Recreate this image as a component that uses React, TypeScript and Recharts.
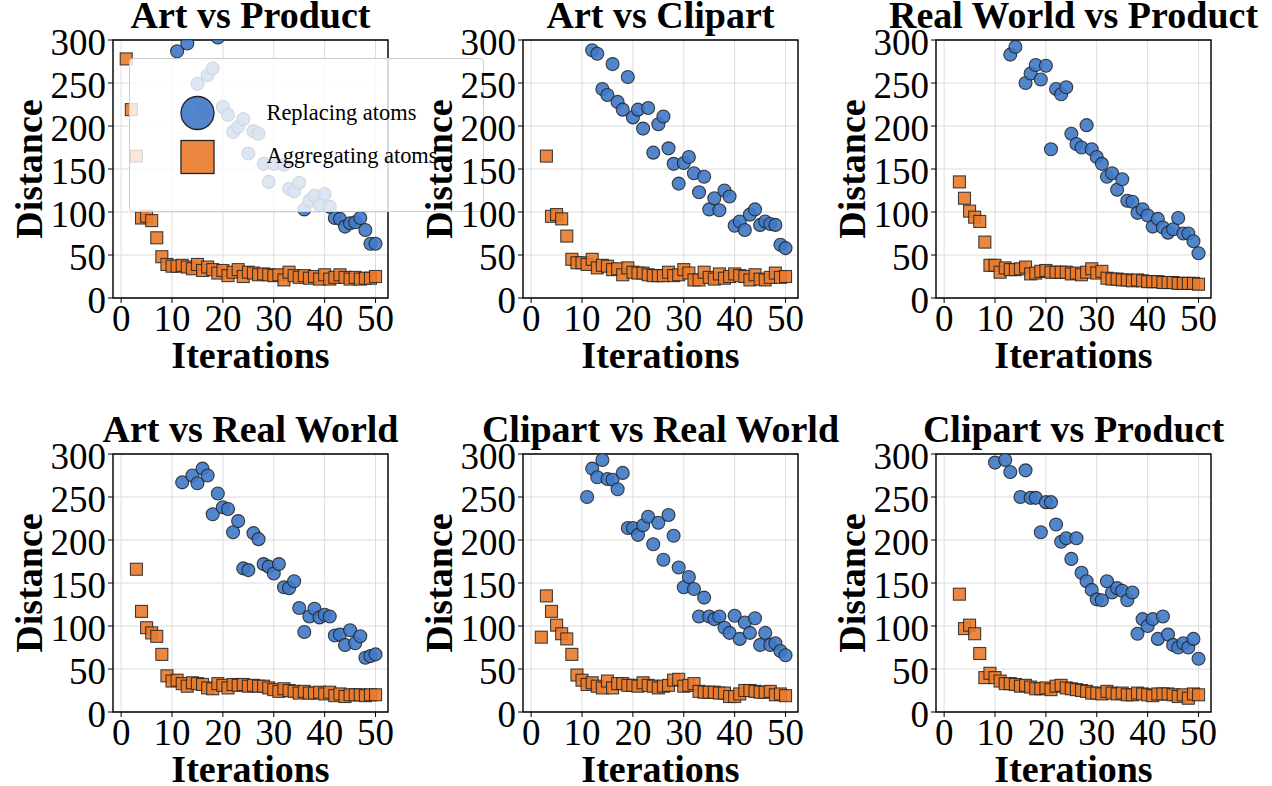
import React from 'react';
import {
  ScatterChart,
  Scatter,
  XAxis,
  YAxis,
  CartesianGrid,
  ReferenceArea,
  Legend,
  Label,
} from 'recharts';

type Pair = [number, number];

// Replacing atoms: [iteration, distance] (points above 300 are clipped)
const artProductReplacing: Pair[] = [
  [11, 287], [13, 296], [15, 249], [16, 217], [17, 259], [18, 267], [19, 303], [20, 222], [21, 213],
  [22, 193], [23, 199], [24, 208], [25, 168], [26, 194], [27, 191], [28, 156], [29, 135], [30, 156],
  [32, 155], [33, 127], [34, 124], [35, 134], [36, 103], [37, 113], [38, 119], [39, 108], [40, 121],
  [41, 106], [42, 93], [43, 92], [44, 83], [45, 87], [46, 88], [47, 93], [48, 79], [49, 63], [50, 63],
];
const artClipartReplacing: Pair[] = [
  [12, 288], [13, 284], [14, 243], [15, 236], [16, 272], [17, 228], [18, 219], [19, 257], [20, 210],
  [21, 219], [22, 197], [23, 221], [24, 169], [25, 202], [26, 211], [27, 174], [28, 156], [29, 133],
  [30, 157], [31, 164], [32, 145], [33, 123], [34, 141], [35, 103], [36, 116], [37, 102], [38, 125],
  [39, 118], [40, 84], [41, 89], [42, 79], [43, 97], [44, 103], [45, 85], [46, 89], [47, 86], [48, 85],
  [49, 62], [50, 58],
];
const realWorldProductReplacing: Pair[] = [
  [13, 283], [14, 292], [16, 250], [17, 261], [18, 271], [19, 254], [20, 270], [21, 173], [22, 243],
  [23, 237], [24, 245], [25, 191], [26, 179], [27, 175], [28, 201], [29, 173], [30, 164], [31, 156],
  [32, 141], [33, 145], [34, 126], [35, 138], [36, 113], [37, 112], [38, 99], [39, 103], [40, 96],
  [41, 83], [42, 92], [43, 82], [44, 76], [45, 80], [46, 93], [47, 75], [48, 75], [49, 66], [50, 52],
];
const artRealWorldReplacing: Pair[] = [
  [12, 267], [14, 275], [15, 266], [16, 283], [17, 275], [18, 230], [19, 254], [20, 238], [21, 236],
  [22, 209], [23, 222], [24, 167], [25, 165], [26, 208], [27, 201], [28, 172], [29, 169], [30, 161],
  [31, 172], [32, 145], [33, 144], [34, 152], [35, 121], [36, 93], [37, 111], [38, 120], [39, 110],
  [40, 113], [41, 111], [42, 89], [43, 90], [44, 78], [45, 95], [46, 80], [47, 88], [48, 63], [49, 65],
  [50, 67],
];
const clipartRealWorldReplacing: Pair[] = [
  [11, 250], [12, 283], [13, 273], [14, 293], [15, 271], [16, 270], [17, 259], [18, 278], [19, 214],
  [20, 214], [21, 206], [22, 217], [23, 227], [24, 195], [25, 220], [26, 177], [27, 229], [28, 205],
  [29, 168], [30, 145], [31, 157], [32, 143], [33, 111], [34, 133], [35, 111], [36, 108], [37, 111],
  [38, 98], [39, 92], [40, 112], [41, 85], [42, 104], [43, 92], [44, 109], [45, 78], [46, 92], [47, 78],
  [48, 80], [49, 71], [50, 66],
];
const clipartProductReplacing: Pair[] = [
  [10, 290], [12, 293], [13, 279], [15, 250], [16, 281], [17, 249], [18, 249], [19, 209], [20, 244],
  [21, 244], [22, 218], [23, 198], [24, 202], [25, 178], [26, 202], [27, 162], [28, 152], [29, 142],
  [30, 131], [31, 130], [32, 152], [33, 139], [34, 144], [35, 141], [36, 130], [37, 139], [38, 91],
  [39, 108], [40, 100], [41, 108], [42, 85], [43, 111], [44, 90], [45, 78], [46, 75], [47, 80],
  [48, 75], [49, 85], [50, 62],
];

// Aggregating atoms: one distance per iteration, starting at the given iteration
const artProductAggregating = [
  278, 219, 165, 93, 95, 90, 70, 48, 39, 37, 37, 38, 36, 34, 39, 32, 36, 33, 29, 32, 26, 30, 33, 25, 30,
  29, 27, 28, 27, 26, 27, 21, 30, 26, 24, 26, 23, 25, 22, 27, 22, 24, 27, 24, 22, 24, 22, 23, 23, 25,
];
const artClipartAggregating = [
  165, 95, 97, 92, 72, 45, 41, 41, 39, 45, 35, 38, 37, 33, 34, 27, 35, 30, 29, 29, 27, 26, 26, 26,
  30, 26, 27, 33, 29, 21, 21, 30, 24, 22, 28, 23, 25, 28, 26, 25, 21, 27, 22, 21, 24, 29, 24, 25,
];
const realWorldProductAggregating = [
  135, 116, 101, 94, 89, 65, 38, 38, 30, 35, 33, 33, 34, 36, 28, 29, 31, 32, 30, 30, 30, 30, 28, 29,
  27, 30, 34, 29, 31, 23, 22, 22, 21, 21, 20, 21, 20, 19, 19, 19, 18, 18, 18, 17, 17, 17, 17, 16,
];
const artRealWorldAggregating = [
  166, 117, 98, 92, 88, 67, 42, 36, 37, 33, 30, 34, 33, 32, 28, 27, 33, 31, 28, 32, 31, 32, 30, 31,
  30, 30, 28, 26, 24, 27, 25, 24, 22, 24, 22, 22, 23, 21, 23, 19, 21, 18, 20, 20, 20, 19, 20, 20,
];
const clipartRealWorldAggregating = [
  87, 135, 117, 101, 91, 85, 67, 43, 37, 32, 34, 30, 28, 36, 28, 33, 33, 31, 31, 30, 34, 31, 30, 28,
  30, 31, 37, 38, 30, 31, 33, 24, 23, 23, 23, 22, 22, 18, 18, 21, 25, 25, 24, 23, 23, 24, 20, 21, 19,
];
const clipartProductAggregating = [
  137, 97, 101, 91, 68, 40, 45, 40, 36, 33, 33, 32, 30, 31, 29, 27, 27, 28, 26, 30, 31, 28, 27, 26,
  25, 24, 22, 22, 21, 24, 22, 21, 22, 20, 20, 22, 21, 20, 19, 21, 21, 21, 20, 18, 20, 16, 21, 20,
];

const X_TICKS = [0, 10, 20, 30, 40, 50];
const Y_TICKS = [0, 50, 100, 150, 200, 250, 300];
const X_DOMAIN: [number, number] = [-1.6, 52.45];
const Y_DOMAIN: [number, number] = [0, 300];

const FONT = "'Liberation Serif', 'Times New Roman', serif";
const BLUE = '#3f79c6';
const ORANGE = '#ea7a2b';
const EDGE = '#222';

// layout (page pixels)
const PLOT_W = 275;
const PLOT_H = 258;
const COL_LEFT = [113, 523, 936];
const ROW_TOP = [40, 454];
const Y_AXIS_W = 110;
const X_AXIS_H = 80;
const MARGIN_TOP = 40;
const MARGIN_RIGHT = 12;

const PANELS = [
  { title: 'Art vs Product', rep: artProductReplacing, agg: artProductAggregating, aggStart: 1, col: 0, row: 0, legend: true },
  { title: 'Art vs Clipart', rep: artClipartReplacing, agg: artClipartAggregating, aggStart: 3, col: 1, row: 0 },
  { title: 'Real World vs Product', rep: realWorldProductReplacing, agg: realWorldProductAggregating, aggStart: 3, col: 2, row: 0 },
  { title: 'Art vs Real World', rep: artRealWorldReplacing, agg: artRealWorldAggregating, aggStart: 3, col: 0, row: 1 },
  { title: 'Clipart vs Real World', rep: clipartRealWorldReplacing, agg: clipartRealWorldAggregating, aggStart: 2, col: 1, row: 1 },
  { title: 'Clipart vs Product', rep: clipartProductReplacing, agg: clipartProductAggregating, aggStart: 3, col: 2, row: 1 },
];

const CircleDot = (props: any) => (
  <circle cx={props.cx} cy={props.cy} r={6.5} fill={BLUE} fillOpacity={0.9} stroke={EDGE} strokeOpacity={0.85} strokeWidth={1.1} />
);

const SquareDot = (props: any) => (
  <rect x={props.cx - 6} y={props.cy - 6} width={12} height={12} fill={ORANGE} fillOpacity={0.9} stroke={EDGE} strokeOpacity={0.85} strokeWidth={1.1} />
);

const XTick = (props: any) => (
  <text x={props.x} y={props.y} dy={26} textAnchor="middle" fontSize={37} fontFamily={FONT} fill="#000">
    {props.payload.value}
  </text>
);

const YTick = (props: any) => (
  <text x={props.x} y={props.y} dy={14.5} textAnchor="end" fontSize={37} fontFamily={FONT} fill="#000">
    {props.payload.value}
  </text>
);

const XLabel = (props: any) => {
  const vb = props.viewBox || { x: Y_AXIS_W, y: MARGIN_TOP + PLOT_H, width: PLOT_W };
  return (
    <text x={vb.x + vb.width / 2} y={vb.y + 70} textAnchor="middle" fontSize={38} fontWeight="bold" fontFamily={FONT} fill="#000">
      Iterations
    </text>
  );
};

const YLabel = (props: any) => {
  const vb = props.viewBox || { x: 0, y: MARGIN_TOP, width: Y_AXIS_W, height: PLOT_H };
  const cx = vb.x + vb.width - 71;
  const cy = vb.y + vb.height / 2;
  return (
    <text x={cx} y={cy} transform={`rotate(-90, ${cx}, ${cy})`} textAnchor="middle" fontSize={38} fontWeight="bold" fontFamily={FONT} fill="#000">
      Distance
    </text>
  );
};

const LegendBox = () => (
  <div
    style={{
      width: 355,
      height: 154,
      boxSizing: 'border-box',
      background: 'rgba(255,255,255,0.8)',
      border: '1px solid #cccccc',
      borderRadius: 4,
    }}
  >
    <svg width={353} height={152} style={{ display: 'block' }}>
      <circle cx={67.5} cy={54} r={16.5} fill={BLUE} fillOpacity={0.9} stroke={EDGE} strokeWidth={1.3} />
      <rect x={51} y={81.5} width={33} height={33} fill={ORANGE} fillOpacity={0.9} stroke={EDGE} strokeWidth={1.3} />
      <text x={136.5} y={60.5} fontSize={22.4} fontFamily={FONT} fill="#000">Replacing atoms</text>
      <text x={136.5} y={103.5} fontSize={22.4} fontFamily={FONT} fill="#000">Aggregating atoms</text>
    </svg>
  </div>
);

const Panel = ({ panel }: { panel: any }) => {
  const repData = panel.rep.map(([iter, dist]: Pair) => ({ iter, dist }));
  const aggData = panel.agg.map((dist: number, i: number) => ({ iter: panel.aggStart + i, dist }));
  const left = COL_LEFT[panel.col] - Y_AXIS_W;
  const top = ROW_TOP[panel.row] - MARGIN_TOP;

  return (
    <div style={{ position: 'absolute', left, top }}>
      <ScatterChart
        width={Y_AXIS_W + PLOT_W + MARGIN_RIGHT}
        height={MARGIN_TOP + PLOT_H + X_AXIS_H}
        margin={{ top: MARGIN_TOP, right: MARGIN_RIGHT, bottom: 0, left: 0 }}
      >
        <CartesianGrid stroke="#dcdcdc" strokeWidth={1} />
        <XAxis
          type="number"
          dataKey="iter"
          domain={X_DOMAIN}
          ticks={X_TICKS}
          allowDataOverflow
          interval={0}
          height={X_AXIS_H}
          stroke="#000"
          axisLine={false}
          tickSize={5}
          tickMargin={2}
          tick={<XTick />}
        >
          <Label content={<XLabel />} />
        </XAxis>
        <YAxis
          type="number"
          dataKey="dist"
          domain={Y_DOMAIN}
          ticks={Y_TICKS}
          allowDataOverflow
          interval={0}
          width={Y_AXIS_W}
          stroke="#000"
          axisLine={false}
          tickSize={5}
          tickMargin={2}
          tick={<YTick />}
        >
          <Label content={<YLabel />} />
        </YAxis>
        <Scatter name="Replacing atoms" data={repData} shape={<CircleDot />} isAnimationActive={false} />
        <Scatter name="Aggregating atoms" data={aggData} shape={<SquareDot />} isAnimationActive={false} />
        <ReferenceArea
          x1={X_DOMAIN[0]}
          x2={X_DOMAIN[1]}
          y1={Y_DOMAIN[0]}
          y2={Y_DOMAIN[1]}
          ifOverflow="visible"
          fill="none"
          stroke="#000"
          strokeWidth={1.4}
        />
        {panel.legend && (
          <Legend
            layout="horizontal"
            verticalAlign="middle"
            align="center"
            width={355}
            height={154}
            wrapperStyle={{ left: 126.3, top: 57.7, width: 355, height: 154 }}
            content={<LegendBox />}
          />
        )}
      </ScatterChart>
    </div>
  );
};

export default function App() {
  return (
    <div style={{ position: 'absolute', left: 0, top: 0, width: 1272, height: 786, overflow: 'hidden', background: '#fff' }}>
      <svg width={1272} height={786} style={{ position: 'absolute', left: 0, top: 0 }}>
        {PANELS.map((p) => (
          <text
            key={p.title}
            x={COL_LEFT[p.col] + PLOT_W / 2}
            y={ROW_TOP[p.row] - 12}
            textAnchor="middle"
            fontSize={38}
            fontWeight="bold"
            fontFamily={FONT}
            fill="#000"
          >
            {p.title}
          </text>
        ))}
      </svg>
      {PANELS.map((p) => (
        <Panel key={p.title} panel={p} />
      ))}
    </div>
  );
}
